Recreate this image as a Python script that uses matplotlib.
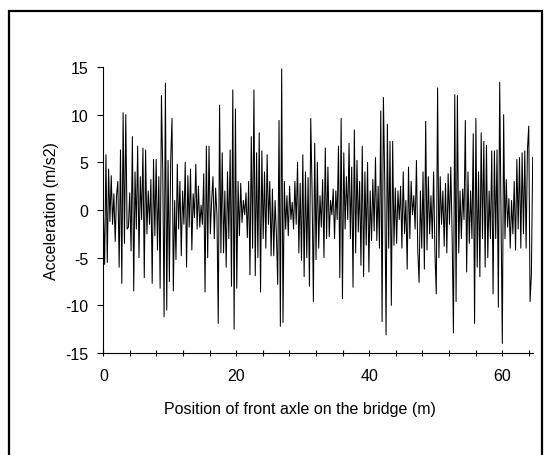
import matplotlib
matplotlib.use("Agg")
import matplotlib.pyplot as plt
from matplotlib.patches import Rectangle
import numpy as np

# acceleration values, roughly every 0.2 m of axle position
acc = [
    0.0, -5.7, 5.8, -5.5, 4.3, -1.2, 3.6, -1.5, 1.7, -3.3,
    1.5, 3.0, -6.0, 6.3, -7.7, 10.2, -3.5, 10.0, -2.0, -1.8,
    1.8, -4.3, 7.7, -8.5, 4.0, -2.0, 6.7, -5.0, 3.5, -1.0,
    6.5, -7.1, 6.3, -2.5, 2.0, -1.5, 3.2, -7.7, 5.3, -2.7,
    5.3, -4.2, 3.5, -8.2, 12.0, 4.0, -11.2, 13.3, -10.5, 5.2,
    -7.5, 5.3, 9.6, -8.5, 1.0, -5.2, 4.8, -2.0, 3.0, -4.8,
    2.0, -1.5, 5.0, -6.0, 3.6, -1.8, 4.3, -4.2, 1.7, -0.8,
    4.8, -2.0, 2.5, -1.8, 0.5, -1.5, 3.8, -8.6, 6.7, -5.0,
    6.7, -2.5, 1.0, 3.5, -3.0, 2.3, -0.5, -11.9, 11.0, -4.5,
    6.0, -4.5, 2.0, -6.0, 4.0, -3.0, 6.3, -8.0, 12.6, -12.5,
    10.6, -8.2, 3.0, -2.7, 2.8, -1.3, 1.0, -0.5, 1.8, -2.9,
    3.0, -6.8, 7.7, -4.0, 12.6, -6.9, 6.0, -5.0, 8.1, -8.6,
    6.2, -3.0, 4.0, -4.0, 5.8, -1.5, 3.0, -4.8, 2.2, -4.8,
    1.0, -2.5, -7.8, 9.4, -12.2, 14.8, -11.8, 3.0, -2.0, 1.5,
    -2.7, 2.5, -1.0, 0.8, -2.0, 3.0, -1.5, 5.0, -4.5, 2.8,
    -5.3, 5.8, -7.0, 4.0, -5.0, 3.4, -8.0, 9.6, 2.0, -9.6,
    7.0, -5.2, 5.0, -4.0, 1.5, -1.8, 3.2, -5.0, 6.5, -3.0,
    4.5, -2.8, 1.0, -0.5, 2.2, -3.0, 2.0, -1.0, 6.7, -7.1,
    9.6, -9.3, 6.0, -2.0, 3.5, -1.0, 7.0, -3.0, 4.5, -8.1,
    8.4, -4.5, 5.2, -2.3, 3.0, -5.8, 6.7, -7.0, 4.0, -3.7,
    5.0, -6.5, 2.0, -3.2, 3.2, -2.2, 5.5, -3.2, 2.5, -4.0,
    10.4, -11.7, 11.8, 3.0, -13.1, 9.0, -4.0, 7.2, -10.0, 7.2,
    -3.7, 2.3, -3.5, 2.0, -1.0, 2.5, -4.0, 4.0, -2.5, 1.0,
    -6.2, 4.5, -3.0, 3.0, -0.5, 1.5, -2.0, 5.2, -4.2, -7.6,
    2.0, -4.0, 4.0, -6.2, 9.3, -4.2, 3.5, -2.5, 1.5, -3.0,
    4.0, -4.5, -8.8, 12.8, -5.0, 3.5, -1.5, 2.0, -3.8, 2.8,
    -4.5, 3.8, -1.5, 4.5, -2.5, -12.9, 12.1, -9.6, 12.0, -4.5,
    2.0, -3.0, 2.2, -1.0, 9.4, -6.5, 4.0, -3.5, 2.0, -3.0,
    8.0, -11.9, 9.6, -6.0, 4.0, -7.0, 8.1, -3.0, 7.2, -6.0,
    6.8, -5.0, 2.0, -3.0, 6.2, -8.8, 6.2, -3.0, 6.3, -10.2,
    13.4, 0.0, -14.0, 10.0, -3.0, 3.2, -1.8, 1.2, -4.0, 1.0,
    -2.5, 3.0, -4.2, 5.3, -2.0, 5.5, -4.0, 6.0, -2.5, 6.2,
    -4.0, 6.3, 8.8, -9.6, -6.8, 5.5,
]
x_end = 64.6
pos = np.arange(len(acc)) * x_end / (len(acc) - 1)

plt.rcParams['font.family'] = ['Liberation Sans', 'DejaVu Sans']
plt.rcParams['axes.unicode_minus'] = False

fig = plt.figure(figsize=(5.51, 4.56), dpi=100)
ax = fig.add_axes([0.1875, 0.2237, 0.7793, 0.6272])

ax.plot(pos, acc, color='black', linewidth=0.75)

ax.set_xlim(0, x_end)
ax.set_ylim(-15, 15)
ax.set_xticks([0, 20, 40, 60])
ax.set_xticks(np.arange(0, 65, 4), minor=True)
ax.set_yticks([-15, -10, -5, 0, 5, 10, 15])
ax.tick_params(axis='x', which='both', direction='inout', length=5, width=0.8,
               labelsize=11.5, pad=8)
ax.tick_params(axis='y', direction='out', length=4.5, width=0.8, labelsize=11.5, pad=6)

for side in ['top', 'right']:
    ax.spines[side].set_visible(False)
for side in ['left', 'bottom']:
    ax.spines[side].set_linewidth(0.8)

ax.set_xlabel("Position of front axle on the bridge (m)", fontsize=11.5)
ax.xaxis.set_label_coords(0.458, -0.168)
ax.set_ylabel("Acceleration (m/s2)", fontsize=11.5, labelpad=5)

# outer frame round the picture
fig.patches.append(Rectangle((8.5 / 551, -0.05), 533 / 551, 1 - 11.5 / 456 + 0.05,
                             transform=fig.transFigure, fill=False,
                             edgecolor='black', linewidth=1.6))

fig.savefig("out.png", dpi=100)
